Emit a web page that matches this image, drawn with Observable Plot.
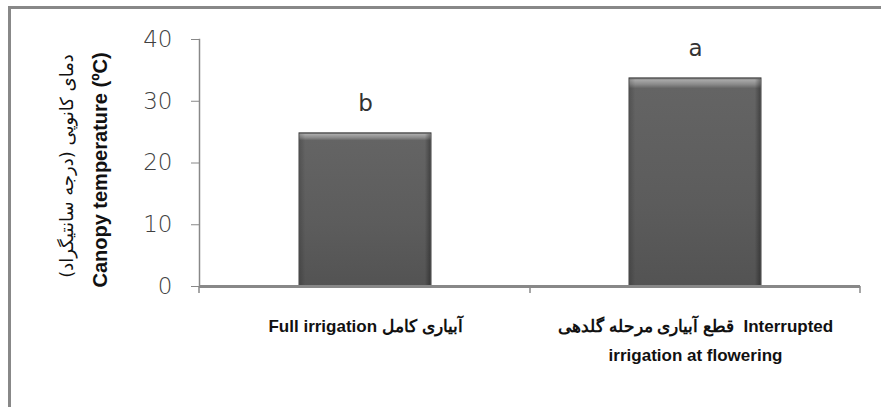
<!DOCTYPE html>
<html><head><meta charset="utf-8">
<script src="https://cdn.jsdelivr.net/npm/d3@7"></script>
<script src="https://cdn.jsdelivr.net/npm/@observablehq/plot@0.6"></script>
<style>
html,body{margin:0;padding:0;background:#fff;overflow:hidden;width:881px;height:407px}
#frame{position:absolute;left:8px;top:6px;width:1000px;height:600px;border-left:3px solid #888;border-top:3px solid #888}
#chart{position:absolute;left:0;top:0}
</style></head><body>
<div id="frame"></div>
<div id="chart"></div>
<script>
const categories = ["Full irrigation آبیاری کامل", "قطع آبیاری مرحله گلدهی  Interrupted\nirrigation at flowering"];
const values = [24.8, 33.7];
const letters = ["b", "a"];
const yTicks = [0, 10, 20, 30, 40];
const yLabelEn = "Canopy temperature (ºC)";
const yLabelFa = "دمای کانوپی (درجه سانتیگراد)";

const data = categories.map((c, i) => ({cat: c, value: values[i], letter: letters[i]}));

const boundaryTicks = (index, scales, values, dims) => {
  const g = d3.create("svg:g");
  const xs = [dims.marginLeft, dims.width - dims.marginRight];
  const bw = scales.x.bandwidth();
  const p0 = scales.x(categories[0]) + bw, p1 = scales.x(categories[1]);
  xs.push((p0 + p1) / 2);
  const y0 = dims.height - dims.marginBottom;
  for (const x of xs) {
    g.append("line").attr("x1", x).attr("x2", x).attr("y1", y0).attr("y2", y0 + 7)
      .attr("stroke", "#888").attr("stroke-width", 1.5);
  }
  return g.node();
};

const plot = Plot.plot({
  width: 881,
  height: 407,
  marginLeft: 199,
  marginRight: 21,
  marginTop: 39,
  marginBottom: 121,
  style: {fontFamily: "'Liberation Sans', sans-serif", background: "transparent", overflow: "visible"},
  x: {domain: categories, paddingInner: 0.6, paddingOuter: 0.3, label: null},
  y: {domain: [0, 40], label: null},
  marks: [
    Plot.barY(data, {x: "cat", y: "value", fill: "url(#barGrad)", stroke: "#3f3f3f", strokeWidth: 1}),
    Plot.barY(data, {x: "cat", y: "value", fill: "url(#barGradH)", inset: 1}),
    Plot.frame({anchor: "left", stroke: "#888", strokeWidth: 1.5}),
    Plot.ruleY([0], {stroke: "#888", strokeWidth: 3}),
    boundaryTicks,
    Plot.axisY({ticks: yTicks, tickSize: 8, tickPadding: 19, stroke: "#888", fontSize: 23, fill: "#404040", fontFamily: "'DejaVu Sans', sans-serif", fontWeight: 300}),
    Plot.axisX({tickSize: 0, tickPadding: 24, fontSize: 17, fontWeight: "bold", fill: "#111", lineHeight: 1.75, textAnchor: "middle"}),
    Plot.text(data, {x: "cat", y: "value", text: "letter", dy: -30, fontSize: 23, fill: "#333", fontFamily: "'DejaVu Sans', sans-serif"}),
    Plot.text([yLabelEn], {frameAnchor: "left", textAnchor: "middle", rotate: -90, dx: -99, dy: 7, fontSize: 20, fontWeight: "bold", fill: "#111"}),
    Plot.text([yLabelFa], {frameAnchor: "left", textAnchor: "middle", rotate: -90, dx: -132, dy: 3, fontSize: 18, fill: "#111", fontFamily: "'DejaVu Sans', sans-serif"})
  ]
});

const defs = d3.create("svg:defs");
const grad = defs.append("linearGradient").attr("id", "barGrad").attr("x1", 0).attr("y1", 0).attr("x2", 0).attr("y2", 1);
[["0%", "#6a6a6a"], ["1%", "#a8a8a8"], ["3%", "#8c8c8c"], ["5%", "#646464"], ["60%", "#5c5c5c"], ["100%", "#535353"]]
  .forEach(([o, c]) => grad.append("stop").attr("offset", o).attr("stop-color", c));
const gradH = defs.append("linearGradient").attr("id", "barGradH").attr("x1", 0).attr("y1", 0).attr("x2", 1).attr("y2", 0);
[["0%", "#000", 0.15], ["4%", "#000", 0], ["96%", "#000", 0], ["100%", "#000", 0.3]]
  .forEach(([o, c, op]) => gradH.append("stop").attr("offset", o).attr("stop-color", c).attr("stop-opacity", op));
plot.insertBefore(defs.node(), plot.firstChild);
document.getElementById("chart").appendChild(plot);
</script>
</body></html>
